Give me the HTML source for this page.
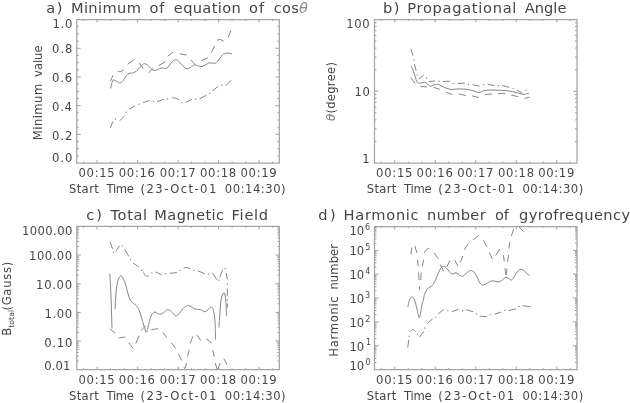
<!DOCTYPE html><html><head><meta charset="utf-8"><style>html,body{margin:0;padding:0;background:#fff;width:630px;height:403px;overflow:hidden}svg{display:block}text{font-family:'DejaVu Sans', 'Liberation Sans', sans-serif;fill:#454545}</style></head><body>
<svg width="630" height="403" viewBox="0 0 630 403">
<rect width="630" height="403" fill="#fff"/>
<path d="M76.8 19.55H279.4V163.1H76.8Z" fill="none" stroke="#a5a5a5" stroke-width="1.25"/>
<path d="M83.55 163.1v-1.5M83.55 19.55v1.5M97.06 163.1v-3M97.06 19.55v3M110.57 163.1v-1.5M110.57 19.55v1.5M124.07 163.1v-1.5M124.07 19.55v1.5M137.58 163.1v-3M137.58 19.55v3M151.09 163.1v-1.5M151.09 19.55v1.5M164.59 163.1v-1.5M164.59 19.55v1.5M178.1 163.1v-3M178.1 19.55v3M191.61 163.1v-1.5M191.61 19.55v1.5M205.11 163.1v-1.5M205.11 19.55v1.5M218.62 163.1v-3M218.62 19.55v3M232.13 163.1v-1.5M232.13 19.55v1.5M245.63 163.1v-1.5M245.63 19.55v1.5M259.14 163.1v-3M259.14 19.55v3M272.65 163.1v-1.5M272.65 19.55v1.5M76.8 155.92h2M279.4 155.92h-2M76.8 148.75h2M279.4 148.75h-2M76.8 141.57h2M279.4 141.57h-2M76.8 134.39h4M279.4 134.39h-4M76.8 127.21h2M279.4 127.21h-2M76.8 120.03h2M279.4 120.03h-2M76.8 112.86h2M279.4 112.86h-2M76.8 105.68h4M279.4 105.68h-4M76.8 98.5h2M279.4 98.5h-2M76.8 91.33h2M279.4 91.33h-2M76.8 84.15h2M279.4 84.15h-2M76.8 76.97h4M279.4 76.97h-4M76.8 69.79h2M279.4 69.79h-2M76.8 62.61h2M279.4 62.61h-2M76.8 55.44h2M279.4 55.44h-2M76.8 48.26h4M279.4 48.26h-4M76.8 41.08h2M279.4 41.08h-2M76.8 33.91h2M279.4 33.91h-2M76.8 26.73h2M279.4 26.73h-2" fill="none" stroke="#a0a0a0" stroke-width="1.0"/>
<path d="M374.5 19.5H577V163.1H374.5Z" fill="none" stroke="#a5a5a5" stroke-width="1.25"/>
<path d="M381.25 163.1v-1.5M381.25 19.5v1.5M394.75 163.1v-3M394.75 19.5v3M408.25 163.1v-1.5M408.25 19.5v1.5M421.75 163.1v-1.5M421.75 19.5v1.5M435.25 163.1v-3M435.25 19.5v3M448.75 163.1v-1.5M448.75 19.5v1.5M462.25 163.1v-1.5M462.25 19.5v1.5M475.75 163.1v-3M475.75 19.5v3M489.25 163.1v-1.5M489.25 19.5v1.5M502.75 163.1v-1.5M502.75 19.5v1.5M516.25 163.1v-3M516.25 19.5v3M529.75 163.1v-1.5M529.75 19.5v1.5M543.25 163.1v-1.5M543.25 19.5v1.5M556.75 163.1v-3M556.75 19.5v3M570.25 163.1v-1.5M570.25 19.5v1.5M374.5 141.49h2M577 141.49h-2M374.5 128.84h2M577 128.84h-2M374.5 119.87h2M577 119.87h-2M374.5 112.91h2M577 112.91h-2M374.5 107.23h2M577 107.23h-2M374.5 102.42h2M577 102.42h-2M374.5 98.26h2M577 98.26h-2M374.5 94.59h2M577 94.59h-2M374.5 91.3h4M577 91.3h-4M374.5 69.69h2M577 69.69h-2M374.5 57.04h2M577 57.04h-2M374.5 48.07h2M577 48.07h-2M374.5 41.11h2M577 41.11h-2M374.5 35.43h2M577 35.43h-2M374.5 30.62h2M577 30.62h-2M374.5 26.46h2M577 26.46h-2M374.5 22.79h2M577 22.79h-2" fill="none" stroke="#a0a0a0" stroke-width="1.0"/>
<path d="M76.8 226.4H279.4V369.7H76.8Z" fill="none" stroke="#a5a5a5" stroke-width="1.25"/>
<path d="M83.55 369.7v-1.5M83.55 226.4v1.5M97.06 369.7v-3M97.06 226.4v3M110.57 369.7v-1.5M110.57 226.4v1.5M124.07 369.7v-1.5M124.07 226.4v1.5M137.58 369.7v-3M137.58 226.4v3M151.09 369.7v-1.5M151.09 226.4v1.5M164.59 369.7v-1.5M164.59 226.4v1.5M178.1 369.7v-3M178.1 226.4v3M191.61 369.7v-1.5M191.61 226.4v1.5M205.11 369.7v-1.5M205.11 226.4v1.5M218.62 369.7v-3M218.62 226.4v3M232.13 369.7v-1.5M232.13 226.4v1.5M245.63 369.7v-1.5M245.63 226.4v1.5M259.14 369.7v-3M259.14 226.4v3M272.65 369.7v-1.5M272.65 226.4v1.5M76.8 361.07h2M279.4 361.07h-2M76.8 356.03h2M279.4 356.03h-2M76.8 352.44h2M279.4 352.44h-2M76.8 349.67h2M279.4 349.67h-2M76.8 347.4h2M279.4 347.4h-2M76.8 345.48h2M279.4 345.48h-2M76.8 343.82h2M279.4 343.82h-2M76.8 342.35h2M279.4 342.35h-2M76.8 341.04h4M279.4 341.04h-4M76.8 332.41h2M279.4 332.41h-2M76.8 327.37h2M279.4 327.37h-2M76.8 323.78h2M279.4 323.78h-2M76.8 321.01h2M279.4 321.01h-2M76.8 318.74h2M279.4 318.74h-2M76.8 316.82h2M279.4 316.82h-2M76.8 315.16h2M279.4 315.16h-2M76.8 313.69h2M279.4 313.69h-2M76.8 312.38h4M279.4 312.38h-4M76.8 303.75h2M279.4 303.75h-2M76.8 298.71h2M279.4 298.71h-2M76.8 295.12h2M279.4 295.12h-2M76.8 292.35h2M279.4 292.35h-2M76.8 290.08h2M279.4 290.08h-2M76.8 288.16h2M279.4 288.16h-2M76.8 286.5h2M279.4 286.5h-2M76.8 285.03h2M279.4 285.03h-2M76.8 283.72h4M279.4 283.72h-4M76.8 275.09h2M279.4 275.09h-2M76.8 270.05h2M279.4 270.05h-2M76.8 266.46h2M279.4 266.46h-2M76.8 263.69h2M279.4 263.69h-2M76.8 261.42h2M279.4 261.42h-2M76.8 259.5h2M279.4 259.5h-2M76.8 257.84h2M279.4 257.84h-2M76.8 256.37h2M279.4 256.37h-2M76.8 255.06h4M279.4 255.06h-4M76.8 246.43h2M279.4 246.43h-2M76.8 241.39h2M279.4 241.39h-2M76.8 237.8h2M279.4 237.8h-2M76.8 235.03h2M279.4 235.03h-2M76.8 232.76h2M279.4 232.76h-2M76.8 230.84h2M279.4 230.84h-2M76.8 229.18h2M279.4 229.18h-2M76.8 227.71h2M279.4 227.71h-2" fill="none" stroke="#a0a0a0" stroke-width="1.0"/>
<path d="M374.5 226.5H577V369.6H374.5Z" fill="none" stroke="#a5a5a5" stroke-width="1.25"/>
<path d="M381.25 369.6v-1.5M381.25 226.5v1.5M394.75 369.6v-3M394.75 226.5v3M408.25 369.6v-1.5M408.25 226.5v1.5M421.75 369.6v-1.5M421.75 226.5v1.5M435.25 369.6v-3M435.25 226.5v3M448.75 369.6v-1.5M448.75 226.5v1.5M462.25 369.6v-1.5M462.25 226.5v1.5M475.75 369.6v-3M475.75 226.5v3M489.25 369.6v-1.5M489.25 226.5v1.5M502.75 369.6v-1.5M502.75 226.5v1.5M516.25 369.6v-3M516.25 226.5v3M529.75 369.6v-1.5M529.75 226.5v1.5M543.25 369.6v-1.5M543.25 226.5v1.5M556.75 369.6v-3M556.75 226.5v3M570.25 369.6v-1.5M570.25 226.5v1.5M374.5 362.42h2M577 362.42h-2M374.5 358.22h2M577 358.22h-2M374.5 355.24h2M577 355.24h-2M374.5 352.93h2M577 352.93h-2M374.5 351.04h2M577 351.04h-2M374.5 349.44h2M577 349.44h-2M374.5 348.06h2M577 348.06h-2M374.5 346.84h2M577 346.84h-2M374.5 345.75h4M577 345.75h-4M374.5 338.57h2M577 338.57h-2M374.5 334.37h2M577 334.37h-2M374.5 331.39h2M577 331.39h-2M374.5 329.08h2M577 329.08h-2M374.5 327.19h2M577 327.19h-2M374.5 325.59h2M577 325.59h-2M374.5 324.21h2M577 324.21h-2M374.5 322.99h2M577 322.99h-2M374.5 321.9h4M577 321.9h-4M374.5 314.72h2M577 314.72h-2M374.5 310.52h2M577 310.52h-2M374.5 307.54h2M577 307.54h-2M374.5 305.23h2M577 305.23h-2M374.5 303.34h2M577 303.34h-2M374.5 301.74h2M577 301.74h-2M374.5 300.36h2M577 300.36h-2M374.5 299.14h2M577 299.14h-2M374.5 298.05h4M577 298.05h-4M374.5 290.87h2M577 290.87h-2M374.5 286.67h2M577 286.67h-2M374.5 283.69h2M577 283.69h-2M374.5 281.38h2M577 281.38h-2M374.5 279.49h2M577 279.49h-2M374.5 277.89h2M577 277.89h-2M374.5 276.51h2M577 276.51h-2M374.5 275.29h2M577 275.29h-2M374.5 274.2h4M577 274.2h-4M374.5 267.02h2M577 267.02h-2M374.5 262.82h2M577 262.82h-2M374.5 259.84h2M577 259.84h-2M374.5 257.53h2M577 257.53h-2M374.5 255.64h2M577 255.64h-2M374.5 254.04h2M577 254.04h-2M374.5 252.66h2M577 252.66h-2M374.5 251.44h2M577 251.44h-2M374.5 250.35h4M577 250.35h-4M374.5 243.17h2M577 243.17h-2M374.5 238.97h2M577 238.97h-2M374.5 235.99h2M577 235.99h-2M374.5 233.68h2M577 233.68h-2M374.5 231.79h2M577 231.79h-2M374.5 230.19h2M577 230.19h-2M374.5 228.81h2M577 228.81h-2M374.5 227.59h2M577 227.59h-2" fill="none" stroke="#a0a0a0" stroke-width="1.0"/>
<clipPath id="cla"><rect x="76.8" y="19.55" width="202.6" height="143.55"/></clipPath>
<path d="M110.5 81L113 75.5M118 71C118.33 71.13 119.08 71.97 120 71.8C120.92 71.63 122.92 70.3 123.5 70M128 64L133.5 60M139.5 63L143 68.5M148.5 72.8L153 68.5M159 65.5L165 62M168 56L173 52.2M180 53.8L186.5 55M191 60L195 64.5M201.5 60.5L207.5 58M211.5 52.3L214.4 46.3M217.4 40.3C217.82 40.15 218.9 39.28 219.9 39.4C220.9 39.52 222.82 40.73 223.4 41M228.3 36.9L230.8 30.9" fill="none" stroke="#858585" stroke-width="1.0" stroke-linecap="round" clip-path="url(#cla)"/>
<path d="M110.5 127.5L112.8 121.8M119.8 120.5C120.17 120.17 121.3 119.25 122 118.5C122.7 117.75 123.67 116.42 124 116M129.5 109L134.5 106.2M143.5 102.5L149 100.5M157.5 101.5L163.5 99.5M172.5 97.8C173 97.88 174.5 98.02 175.5 98.3C176.5 98.58 178 99.3 178.5 99.5M186 102.2L191.5 99.5M200 98.5L206 95.5M213 90.5L218 86.5M226 85.5L230.8 80.5" fill="none" stroke="#858585" stroke-width="1.0" stroke-linecap="round" clip-path="url(#cla)"/>
<circle cx="115.5" cy="119" r="0.7" fill="#858585"/>
<circle cx="126" cy="112.2" r="0.7" fill="#858585"/>
<circle cx="139" cy="104.2" r="0.7" fill="#858585"/>
<circle cx="153.5" cy="101.2" r="0.7" fill="#858585"/>
<circle cx="167.5" cy="99" r="0.7" fill="#858585"/>
<circle cx="182" cy="102.8" r="0.7" fill="#858585"/>
<circle cx="195.8" cy="99.2" r="0.7" fill="#858585"/>
<circle cx="209.8" cy="93.5" r="0.7" fill="#858585"/>
<circle cx="221.8" cy="85" r="0.7" fill="#858585"/>
<path d="M110.5 88.5C110.83 87.25 111.92 82.42 112.5 81C113.08 79.58 113.25 79.92 114 80C114.75 80.08 116 81 117 81.5C118 82 119 83.08 120 83C121 82.92 122 82.17 123 81C124 79.83 125 77.25 126 76C127 74.75 127.92 74 129 73.5C130.08 73 131.5 73.25 132.5 73C133.5 72.75 134.08 72.58 135 72C135.92 71.42 137 70.5 138 69.5C139 68.5 140.08 66.92 141 66C141.92 65.08 142.67 64.33 143.5 64C144.33 63.67 145.08 63.58 146 64C146.92 64.42 148 65.58 149 66.5C150 67.42 151 68.83 152 69.5C153 70.17 154 70.5 155 70.5C156 70.5 157 69.92 158 69.5C159 69.08 160.17 68.22 161 68C161.83 67.78 162.08 68.17 163 68.2C163.92 68.23 165.5 68.57 166.5 68.2C167.5 67.83 168.08 67.03 169 66C169.92 64.97 170.92 63.03 172 62C173.08 60.97 174.42 59.97 175.5 59.8C176.58 59.63 177.5 60.22 178.5 61C179.5 61.78 180.5 63.42 181.5 64.5C182.5 65.58 183.5 66.78 184.5 67.5C185.5 68.22 186.5 68.8 187.5 68.8C188.5 68.8 189.33 68.13 190.5 67.5C191.67 66.87 193.17 65.25 194.5 65C195.83 64.75 197.25 65.75 198.5 66C199.75 66.25 200.75 66.75 202 66.5C203.25 66.25 204.75 65.12 206 64.5C207.25 63.88 208.33 63.02 209.5 62.8C210.67 62.58 211.92 63.17 213 63.2C214.08 63.23 215 63.62 216 63C217 62.38 217.92 60.83 219 59.5C220.08 58.17 221.5 56 222.5 55C223.5 54 224.17 53.83 225 53.5C225.83 53.17 226.33 52.95 227.5 53C228.67 53.05 231.25 53.67 232 53.8" fill="none" stroke="#858585" stroke-width="1.0" clip-path="url(#cla)"/>
<clipPath id="clb"><rect x="374.5" y="19.5" width="202.5" height="143.6"/></clipPath>
<path d="M411 78L415 83M420.5 86.5L426.5 86.8M434 87.5L439.5 89.2M446.5 92.5L452 94.5M459 94L465.5 95.5M472.5 96L478.5 97.5M485.5 94.5L491.5 94M498.5 93.5L504.8 93.6M511.6 95.3L517.9 96.5M525 98.2L529.2 97.3" fill="none" stroke="#858585" stroke-width="1.0" stroke-linecap="round" clip-path="url(#clb)"/>
<path d="M411 49.5L413 55.5M414.5 64.5L416 70M419 79L423.5 75.2M429 81.5L434.5 81M443.5 81.5L449.5 81.2M458 83.5L464.5 83M473 84.8L479 86M488 84.2L494 85.5M502.7 85.7L508.9 87.2M517.3 90.4L522 92.9M525.6 90.6L526.6 89.6" fill="none" stroke="#858585" stroke-width="1.0" stroke-linecap="round" clip-path="url(#clb)"/>
<circle cx="414" cy="60" r="0.7" fill="#858585"/>
<circle cx="417" cy="75" r="0.7" fill="#858585"/>
<circle cx="426.5" cy="78" r="0.7" fill="#858585"/>
<circle cx="439" cy="81.2" r="0.7" fill="#858585"/>
<circle cx="453.8" cy="83.5" r="0.7" fill="#858585"/>
<circle cx="468.5" cy="84.5" r="0.7" fill="#858585"/>
<circle cx="483.5" cy="84.8" r="0.7" fill="#858585"/>
<circle cx="498.5" cy="85.8" r="0.7" fill="#858585"/>
<circle cx="513.1" cy="88.4" r="0.7" fill="#858585"/>
<path d="M411 66C411.33 66.67 412.33 68.33 413 70C413.67 71.67 414.42 74.17 415 76C415.58 77.83 415.92 79.8 416.5 81C417.08 82.2 417.67 82.9 418.5 83.2C419.33 83.5 420.5 82.97 421.5 82.8C422.5 82.63 423.5 82 424.5 82.2C425.5 82.4 426.5 83.33 427.5 84C428.5 84.67 429.42 86.07 430.5 86.2C431.58 86.33 432.92 85.13 434 84.8C435.08 84.47 436 84.13 437 84.2C438 84.27 438.83 84.7 440 85.2C441.17 85.7 442.67 86.6 444 87.2C445.33 87.8 446.67 88.42 448 88.8C449.33 89.18 450.5 89.47 452 89.5C453.5 89.53 455.33 89.08 457 89C458.67 88.92 460.17 88.92 462 89C463.83 89.08 466 89.17 468 89.5C470 89.83 472.17 90.5 474 91C475.83 91.5 477.33 92.53 479 92.5C480.67 92.47 482.17 91.22 484 90.8C485.83 90.38 487.83 90.1 490 90C492.17 89.9 494.67 90.12 497 90.2C499.33 90.28 501.83 90.33 504 90.5C506.17 90.67 508 90.87 510 91.2C512 91.53 514.33 92.1 516 92.5C517.67 92.9 518.67 93.28 520 93.6C521.33 93.92 522.5 94.47 524 94.4C525.5 94.33 528.17 93.4 529 93.2" fill="none" stroke="#858585" stroke-width="1.0" clip-path="url(#clb)"/>
<clipPath id="clc"><rect x="76.8" y="226.4" width="202.6" height="143.3"/></clipPath>
<path d="M110 329L115 333M119 338C119.5 337.92 121 337.67 122 337.5C123 337.33 124.5 337.08 125 337M129 343L133 348.4M136 343L139 336M141.1 330.3L145.5 326M151.7 329.5L157.9 328.7M163.1 332.6L166.8 337.8M171.5 343L175.6 348.2M178.8 354.5L181.4 360.2M184 367.3C184.17 367.5 184.57 369.15 185 368.5C185.43 367.85 186.33 364.25 186.6 363.4M187.6 356.1L189.2 350.3M190.2 343L192.8 336.8M197 335.2L200.7 340.4M206.4 339.2C206.83 339.42 208.22 339.87 209 340.5C209.78 341.13 210.75 342.58 211.1 343M212.7 350.3L214.2 356.1M215.3 363.4L217.1 369.1M217.9 369.1L220 363.4M224 359L227 364.5" fill="none" stroke="#858585" stroke-width="1.0" stroke-linecap="round" clip-path="url(#clc)"/>
<path d="M110.2 242.1L112.4 248.4M115.9 251.3L119.4 246.2M124.9 249.5L128.5 256M133.4 263.3L138.3 266.6M143.8 272.9C144.17 273.47 145.18 275.83 146 276.3C146.82 276.77 148.25 275.8 148.7 275.7M155.8 272.1L161.2 274.6M170.2 273.2L176.5 272.7M183.9 268C184.42 267.93 185.97 267.52 187 267.6C188.03 267.68 189.58 268.35 190.1 268.5M198.5 271.1L204.3 273.5M212.7 273.5L216.9 279.5M220 276.9L222.6 270M226.3 273.2L227.3 279M227.3 288.8L227.3 295.5M227.4 304L227.5 307" fill="none" stroke="#858585" stroke-width="1.0" stroke-linecap="round" clip-path="url(#clc)"/>
<circle cx="113.5" cy="252.2" r="0.7" fill="#858585"/>
<circle cx="122.5" cy="245.9" r="0.7" fill="#858585"/>
<circle cx="130.7" cy="259.8" r="0.7" fill="#858585"/>
<circle cx="141.6" cy="270.2" r="0.7" fill="#858585"/>
<circle cx="151.9" cy="272.9" r="0.7" fill="#858585"/>
<circle cx="165.5" cy="273.7" r="0.7" fill="#858585"/>
<circle cx="180.2" cy="270.4" r="0.7" fill="#858585"/>
<circle cx="193.8" cy="270.4" r="0.7" fill="#858585"/>
<circle cx="208.5" cy="274.2" r="0.7" fill="#858585"/>
<circle cx="219" cy="280.2" r="0.7" fill="#858585"/>
<circle cx="225.2" cy="268.5" r="0.7" fill="#858585"/>
<circle cx="227.3" cy="284.2" r="0.7" fill="#858585"/>
<circle cx="227.3" cy="300" r="0.7" fill="#858585"/>
<path d="M109.9 273.7C110.02 276.08 110.37 282.78 110.6 288C110.83 293.22 111.07 298.25 111.3 305C111.53 311.75 111.88 324.58 112 328.5" fill="none" stroke="#858585" stroke-width="1.0" clip-path="url(#clc)"/>
<path d="M115 309.3C115.08 307.75 115.25 303.55 115.5 300C115.75 296.45 116.03 291.42 116.5 288C116.97 284.58 117.6 281.5 118.3 279.5C119 277.5 119.92 276.25 120.7 276C121.48 275.75 122.12 276.38 123 278C123.88 279.62 125.05 282.67 126 285.7C126.95 288.73 127.83 293.62 128.7 296.2C129.57 298.78 129.95 299.65 131.2 301.2C132.45 302.75 134.85 303.95 136.2 305.5C137.55 307.05 138.38 308.33 139.3 310.5C140.22 312.67 140.88 315.82 141.7 318.5C142.52 321.18 143.43 324.28 144.2 326.6C144.97 328.92 145.57 332.72 146.3 332.4C147.03 332.08 147.82 327.43 148.6 324.7C149.38 321.97 149.97 318.1 151 316C152.03 313.9 153.65 312.5 154.8 312.1C155.95 311.7 156.87 313.25 157.9 313.6C158.93 313.95 159.87 314.52 161 314.2C162.13 313.88 163.57 312.47 164.7 311.7C165.83 310.93 166.67 309.6 167.8 309.6C168.93 309.6 170.15 310.63 171.5 311.7C172.85 312.77 174.55 315.78 175.9 316C177.25 316.22 178.37 314.23 179.6 313C180.83 311.77 181.95 309.85 183.3 308.6C184.65 307.35 186.58 305.93 187.7 305.5C188.82 305.07 188.78 305.42 190 306C191.22 306.58 193.33 308.42 195 309C196.67 309.58 198.33 309.03 200 309.5C201.67 309.97 203.67 311.8 205 311.8C206.33 311.8 207 310.27 208 309.5C209 308.73 210.17 307.28 211 307.2C211.83 307.12 212.42 307.53 213 309C213.58 310.47 214.13 313.33 214.5 316C214.87 318.67 215.03 321.08 215.2 325C215.37 328.92 215.45 337.08 215.5 339.5" fill="none" stroke="#858585" stroke-width="1.0" clip-path="url(#clc)"/>
<path d="M219 327.5C219.13 325.42 219.47 319.58 219.8 315C220.13 310.42 220.38 303.67 221 300C221.62 296.33 222.83 293.83 223.5 293C224.17 292.17 224.58 293.17 225 295C225.42 296.83 225.75 300.5 226 304C226.25 307.5 226.42 314 226.5 316" fill="none" stroke="#858585" stroke-width="1.0" clip-path="url(#clc)"/>
<clipPath id="cld"><rect x="374.5" y="226.5" width="202.5" height="143.1"/></clipPath>
<path d="M411 254L411.8 248M415 246.5L416.8 252.5M417.5 260L418.2 266M418.6 273L419 279.7M419.4 287L419.7 289.3M420.9 279.7L421.2 273M422.5 265.5L423.5 260M424.5 252.5C424.83 252 425.75 250.17 426.5 249.5C427.25 248.83 428.58 248.67 429 248.5M434.5 253.2L438 258.5M440.5 265L443.5 271M447 266.5L449.8 260.8M455 260.5L457.6 265.5M460.5 262L462.8 256.2M464.5 249.5L468 244M473.5 239.5L478.5 235.5M483.5 240.8L486.8 246.5M489.5 253L492.2 258.5M496 255L499.5 249.5M503.5 255.5L504.2 261.2M505 268.5C505.2 269.58 505.87 274.92 506.2 275C506.53 275.08 506.87 270 507 269M508.5 255.5L507.7 261.5M509.8 242.5L509 248.2M513.5 229.5L511.5 235.5M518.8 226.6L523.3 231.4" fill="none" stroke="#858585" stroke-width="1.0" stroke-linecap="round" clip-path="url(#cld)"/>
<path d="M407.8 347.1L408.7 340.3M410.5 331.4C410.85 331.07 411.8 329.4 412.6 329.4C413.4 329.4 414.85 331.07 415.3 331.4M420.1 336.6L423.5 331.7M427.6 323.2L432.4 319.1M438.5 313.7L443.6 309.5M452.3 311.5L458.3 309.5M466.6 309.9L472.5 311.5M480.1 316.3L486.4 316.5M495 314L501 312.2M509 310.5L515.5 309M523 305.8L529.5 306.5" fill="none" stroke="#858585" stroke-width="1.0" stroke-linecap="round" clip-path="url(#cld)"/>
<circle cx="409.1" cy="336.2" r="0.7" fill="#858585"/>
<circle cx="417.3" cy="334.2" r="0.7" fill="#858585"/>
<circle cx="424.9" cy="328" r="0.7" fill="#858585"/>
<circle cx="435.8" cy="317.1" r="0.7" fill="#858585"/>
<circle cx="447.9" cy="310.7" r="0.7" fill="#858585"/>
<circle cx="462.6" cy="310.7" r="0.7" fill="#858585"/>
<circle cx="476.5" cy="313.9" r="0.7" fill="#858585"/>
<circle cx="490.3" cy="314.6" r="0.7" fill="#858585"/>
<circle cx="505" cy="310.2" r="0.7" fill="#858585"/>
<circle cx="519" cy="306.5" r="0.7" fill="#858585"/>
<path d="M407.8 306.8C408.08 305.67 408.8 301.63 409.5 300C410.2 298.37 411.17 297 412 297C412.83 297 413.67 298 414.5 300C415.33 302 416.18 306.03 417 309C417.82 311.97 418.65 318.13 419.4 317.8C420.15 317.47 420.82 310.13 421.5 307C422.18 303.87 423 301.08 423.5 299C424 296.92 423.92 296.08 424.5 294.5C425.08 292.92 426.08 290.75 427 289.5C427.92 288.25 429 287.83 430 287C431 286.17 432 285.83 433 284.5C434 283.17 435 281.17 436 279C437 276.83 438 273.53 439 271.5C440 269.47 441 267.58 442 266.8C443 266.02 444 266.27 445 266.8C446 267.33 446.83 268.8 448 270C449.17 271.2 450.67 273.53 452 274C453.33 274.47 454.67 272.55 456 272.8C457.33 273.05 458.83 274.92 460 275.5C461.17 276.08 462 276.63 463 276.3C464 275.97 464.75 274.47 466 273.5C467.25 272.53 469.17 270.75 470.5 270.5C471.83 270.25 472.92 270.92 474 272C475.08 273.08 476 275.17 477 277C478 278.83 479.08 281.67 480 283C480.92 284.33 481.5 284.87 482.5 285C483.5 285.13 484.75 284.38 486 283.8C487.25 283.22 488.83 282 490 281.5C491.17 281 491.67 280.72 493 280.8C494.33 280.88 496.67 281.97 498 282C499.33 282.03 500 281.58 501 281C502 280.42 503.17 279.12 504 278.5C504.83 277.88 505.17 277.3 506 277.3C506.83 277.3 508.08 278.05 509 278.5C509.92 278.95 510.67 280.25 511.5 280C512.33 279.75 513.08 278.33 514 277C514.92 275.67 516 273.25 517 272C518 270.75 519 269.83 520 269.5C521 269.17 522 269.5 523 270C524 270.5 524.92 271.58 526 272.5C527.08 273.42 528.92 275 529.5 275.5" fill="none" stroke="#858585" stroke-width="1.0" clip-path="url(#cld)"/>
<text id="ta_0" fill="#6a6a6a" x="46.36" y="13" font-size="14.6" textLength="16.17" lengthAdjust="spacing" >a)</text>
<text id="ta_1" fill="#6a6a6a" x="70.94" y="13" font-size="14.6" textLength="69.91" lengthAdjust="spacing" >Minimum</text>
<text id="ta_2" fill="#6a6a6a" x="149.6" y="13" font-size="14.6" textLength="14.83" lengthAdjust="spacing" >of</text>
<text id="ta_3" fill="#6a6a6a" x="173.86" y="13" font-size="14.6" textLength="66.79" lengthAdjust="spacing" >equation</text>
<text id="ta_4" fill="#6a6a6a" x="248.95" y="13" font-size="14.6" textLength="15.26" lengthAdjust="spacing" >of</text>
<text id="ta_5" fill="#6a6a6a" x="273.73" y="13" font-size="14.6" textLength="34.29" lengthAdjust="spacing" >cos<tspan font-style="italic" fill="#8a8a8a">θ</tspan></text>
<text id="tb_0" fill="#6a6a6a" x="383.12" y="13" font-size="14.6" textLength="16.25" lengthAdjust="spacing" >b)</text>
<text id="tb_1" fill="#6a6a6a" x="407.26" y="13" font-size="14.6" textLength="109.16" lengthAdjust="spacing" >Propagational</text>
<text id="tb_2" fill="#6a6a6a" x="524.63" y="13" font-size="14.6" textLength="41.73" lengthAdjust="spacing" >Angle</text>
<text id="tc_0" fill="#6a6a6a" x="86.32" y="219.5" font-size="14.6" textLength="15.54" lengthAdjust="spacing" >c)</text>
<text id="tc_1" fill="#6a6a6a" x="110.56" y="219.5" font-size="14.6" textLength="36.62" lengthAdjust="spacing" >Total</text>
<text id="tc_2" fill="#6a6a6a" x="154.26" y="219.5" font-size="14.6" textLength="69.84" lengthAdjust="spacing" >Magnetic</text>
<text id="tc_3" fill="#6a6a6a" x="231.54" y="219.5" font-size="14.6" textLength="36.6" lengthAdjust="spacing" >Field</text>
<text id="td_0" fill="#6a6a6a" x="318.37" y="219.5" font-size="14.6" textLength="17.32" lengthAdjust="spacing" >d)</text>
<text id="td_1" fill="#6a6a6a" x="343.62" y="219.5" font-size="14.6" textLength="74.98" lengthAdjust="spacing" >Harmonic</text>
<text id="td_2" fill="#6a6a6a" x="427.12" y="219.5" font-size="14.6" textLength="58.52" lengthAdjust="spacing" >number</text>
<text id="td_3" fill="#6a6a6a" x="494.98" y="219.5" font-size="14.6" textLength="13.85" lengthAdjust="spacing" >of</text>
<text id="td_4" fill="#6a6a6a" x="519.07" y="219.5" font-size="14.6" textLength="111.05" lengthAdjust="spacing" >gyrofrequency</text>
<text id="xa0" x="78.51" y="177.3" font-size="11.6" textLength="36.23" lengthAdjust="spacing" >00:15</text>
<text id="xa1" x="118.79" y="177.3" font-size="11.6" textLength="36.15" lengthAdjust="spacing" >00:16</text>
<text id="xa2" x="159.64" y="177.3" font-size="11.6" textLength="36.07" lengthAdjust="spacing" >00:17</text>
<text id="xa3" x="199.99" y="177.3" font-size="11.6" textLength="36.27" lengthAdjust="spacing" >00:18</text>
<text id="xa4" x="240.58" y="177.3" font-size="11.6" textLength="36.04" lengthAdjust="spacing" >00:19</text>
<text id="xta_0" x="68.93" y="192.8" font-size="11.6" textLength="29.92" lengthAdjust="spacing" >Start</text>
<text id="xta_1" x="106.58" y="192.8" font-size="11.6" textLength="27.32" lengthAdjust="spacing" >Time</text>
<text id="xta_2" x="140.59" y="192.8" font-size="11.6" textLength="75.74" lengthAdjust="spacing" >(23-Oct-01</text>
<text id="xta_3" x="224.83" y="192.8" font-size="11.6" textLength="60.77" lengthAdjust="spacing" >00:14:30)</text>
<text id="xb0" x="376.07" y="177.3" font-size="11.6" textLength="36.34" lengthAdjust="spacing" >00:15</text>
<text id="xb1" x="416.57" y="177.3" font-size="11.6" textLength="36.29" lengthAdjust="spacing" >00:16</text>
<text id="xb2" x="457.18" y="177.3" font-size="11.6" textLength="36.27" lengthAdjust="spacing" >00:17</text>
<text id="xb3" x="497.92" y="177.3" font-size="11.6" textLength="36.1" lengthAdjust="spacing" >00:18</text>
<text id="xb4" x="538.22" y="177.3" font-size="11.6" textLength="36.08" lengthAdjust="spacing" >00:19</text>
<text id="xtb_0" x="366.87" y="192.8" font-size="11.6" textLength="29.5" lengthAdjust="spacing" >Start</text>
<text id="xtb_1" x="404.02" y="192.8" font-size="11.6" textLength="27.71" lengthAdjust="spacing" >Time</text>
<text id="xtb_2" x="438.35" y="192.8" font-size="11.6" textLength="75.83" lengthAdjust="spacing" >(23-Oct-01</text>
<text id="xtb_3" x="522.41" y="192.8" font-size="11.6" textLength="60.89" lengthAdjust="spacing" >00:14:30)</text>
<text id="xc0" x="78.51" y="384.3" font-size="11.6" textLength="36.23" lengthAdjust="spacing" >00:15</text>
<text id="xc1" x="118.79" y="384.3" font-size="11.6" textLength="36.15" lengthAdjust="spacing" >00:16</text>
<text id="xc2" x="159.64" y="384.3" font-size="11.6" textLength="36.07" lengthAdjust="spacing" >00:17</text>
<text id="xc3" x="199.99" y="384.3" font-size="11.6" textLength="36.27" lengthAdjust="spacing" >00:18</text>
<text id="xc4" x="240.58" y="384.3" font-size="11.6" textLength="36.04" lengthAdjust="spacing" >00:19</text>
<text id="xtc_0" x="68.93" y="399.8" font-size="11.6" textLength="29.92" lengthAdjust="spacing" >Start</text>
<text id="xtc_1" x="106.58" y="399.8" font-size="11.6" textLength="27.32" lengthAdjust="spacing" >Time</text>
<text id="xtc_2" x="140.59" y="399.8" font-size="11.6" textLength="75.74" lengthAdjust="spacing" >(23-Oct-01</text>
<text id="xtc_3" x="224.83" y="399.8" font-size="11.6" textLength="60.77" lengthAdjust="spacing" >00:14:30)</text>
<text id="xd0" x="376.07" y="384.3" font-size="11.6" textLength="36.34" lengthAdjust="spacing" >00:15</text>
<text id="xd1" x="416.57" y="384.3" font-size="11.6" textLength="36.29" lengthAdjust="spacing" >00:16</text>
<text id="xd2" x="457.18" y="384.3" font-size="11.6" textLength="36.27" lengthAdjust="spacing" >00:17</text>
<text id="xd3" x="497.92" y="384.3" font-size="11.6" textLength="36.1" lengthAdjust="spacing" >00:18</text>
<text id="xd4" x="538.22" y="384.3" font-size="11.6" textLength="36.08" lengthAdjust="spacing" >00:19</text>
<text id="xtd_0" x="366.87" y="399.8" font-size="11.6" textLength="29.5" lengthAdjust="spacing" >Start</text>
<text id="xtd_1" x="404.02" y="399.8" font-size="11.6" textLength="27.71" lengthAdjust="spacing" >Time</text>
<text id="xtd_2" x="438.35" y="399.8" font-size="11.6" textLength="75.83" lengthAdjust="spacing" >(23-Oct-01</text>
<text id="xtd_3" x="522.41" y="399.8" font-size="11.6" textLength="60.89" lengthAdjust="spacing" >00:14:30)</text>
<text id="ya0" x="52.45" y="28.4" font-size="11.6" textLength="19.84" lengthAdjust="spacing" >1.0</text>
<text id="ya1" x="52.07" y="53.2" font-size="11.6" textLength="20.3" lengthAdjust="spacing" >0.8</text>
<text id="ya2" x="52.07" y="82.2" font-size="11.6" textLength="20.09" lengthAdjust="spacing" >0.6</text>
<text id="ya3" x="52.07" y="110.9" font-size="11.6" textLength="19.84" lengthAdjust="spacing" >0.4</text>
<text id="ya4" x="52.07" y="139.7" font-size="11.6" textLength="20.28" lengthAdjust="spacing" >0.2</text>
<text id="ya5" x="52.07" y="162.4" font-size="11.6" textLength="20.22" lengthAdjust="spacing" >0.0</text>
<text id="yb0" x="346.28" y="28.1" font-size="11.6" textLength="23.3" lengthAdjust="spacing" >100</text>
<text id="yb1" x="354.45" y="96.2" font-size="11.6" textLength="15.38" lengthAdjust="spacing" >10</text>
<text id="yb2" x="362.28" y="162.8" font-size="11.6" textLength="-16.75" lengthAdjust="spacing" >1</text>
<text id="yc0" x="21.94" y="235.2" font-size="11.6" textLength="50.4" lengthAdjust="spacing" >1000.00</text>
<text id="yc1" x="29.02" y="260.1" font-size="11.6" textLength="43.05" lengthAdjust="spacing" >100.00</text>
<text id="yc2" x="36.09" y="289.1" font-size="11.6" textLength="35.99" lengthAdjust="spacing" >10.00</text>
<text id="yc3" x="44.45" y="317.8" font-size="11.6" textLength="27.63" lengthAdjust="spacing" >1.00</text>
<text id="yc4" x="44.16" y="346.5" font-size="11.6" textLength="28.12" lengthAdjust="spacing" >0.10</text>
<text id="yc5" x="44.16" y="370" font-size="11.6" textLength="26.11" lengthAdjust="spacing" >0.01</text>
<text id="yd0" x="349.45" y="370" font-size="11.6" textLength="14.8" lengthAdjust="spacing" >10</text>
<text id="ydS0" x="365.4" y="364.7" font-size="8" textLength="1.97" lengthAdjust="spacing" fill="#3a3a3a">0</text>
<text id="yd1" x="349.45" y="350.75" font-size="11.6" textLength="14.8" lengthAdjust="spacing" >10</text>
<text id="ydS1" x="365.91" y="345.35" font-size="8" textLength="-17.37" lengthAdjust="spacing" fill="#3a3a3a">1</text>
<text id="yd2" x="349.45" y="326.9" font-size="11.6" textLength="14.8" lengthAdjust="spacing" >10</text>
<text id="ydS2" x="365.35" y="321.5" font-size="8" textLength="7.96" lengthAdjust="spacing" fill="#3a3a3a">2</text>
<text id="yd3" x="349.45" y="303.05" font-size="11.6" textLength="14.8" lengthAdjust="spacing" >10</text>
<text id="ydS3" x="365.1" y="297.65" font-size="8" textLength="7.2" lengthAdjust="spacing" fill="#3a3a3a">3</text>
<text id="yd4" x="349.45" y="279.2" font-size="11.6" textLength="14.8" lengthAdjust="spacing" >10</text>
<text id="ydS4" x="365.22" y="273.8" font-size="8" textLength="2.24" lengthAdjust="spacing" fill="#3a3a3a">4</text>
<text id="yd5" x="349.45" y="255.35" font-size="11.6" textLength="14.8" lengthAdjust="spacing" >10</text>
<text id="ydS5" x="365.22" y="249.95" font-size="8" textLength="7.22" lengthAdjust="spacing" fill="#3a3a3a">5</text>
<text id="yd6" x="349.45" y="234.9" font-size="11.6" textLength="14.8" lengthAdjust="spacing" >10</text>
<text id="ydS6" x="365.08" y="229.5" font-size="8" textLength="2.9" lengthAdjust="spacing" fill="#3a3a3a">6</text>
<text id="yta_0" transform="translate(41.9 140.25) rotate(-90)" x="0" y="0" font-size="11.6" textLength="56.49" lengthAdjust="spacing" >Minimum</text>
<text id="yta_1" transform="translate(41.9 76.89) rotate(-90)" x="0" y="0" font-size="11.6" textLength="31.42" lengthAdjust="spacing" >value</text>
<text id="ytb" transform="translate(335 120.98) rotate(-90)" x="0" y="0" font-size="11.6" textLength="59.01" lengthAdjust="spacing" ><tspan font-style="italic" fill="#7a7a7a">θ</tspan>(degree)</text>
<text id="ytc1" transform="translate(10.9 335.74) rotate(-90)" x="0" y="0" font-size="11.6" textLength="1.21" lengthAdjust="spacing" >B</text>
<text id="ytc2" transform="translate(14 327.82) rotate(-90)" x="0" y="0" font-size="7.6" textLength="18" lengthAdjust="spacing" fill="#333">total</text>
<text id="ytc3" transform="translate(10.9 310.52) rotate(-90)" x="0" y="0" font-size="11.6" textLength="48.71" lengthAdjust="spacing" >(Gauss)</text>
<text id="ytd_0" transform="translate(338.4 356.63) rotate(-90)" x="0" y="0" font-size="11.6" textLength="60.36" lengthAdjust="spacing" >Harmonic</text>
<text id="ytd_1" transform="translate(338.4 289.6) rotate(-90)" x="0" y="0" font-size="11.6" textLength="45.7" lengthAdjust="spacing" >number</text>
</svg></body></html>
